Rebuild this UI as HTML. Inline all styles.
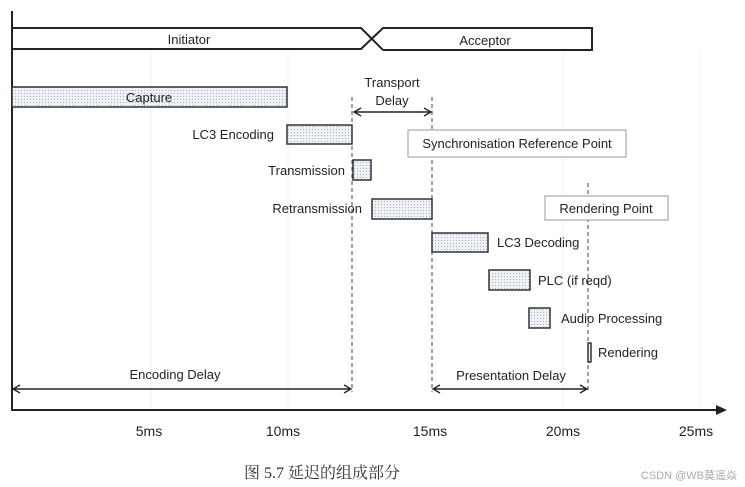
<!DOCTYPE html>
<html><head><meta charset="utf-8"><style>
html,body{margin:0;padding:0;background:#fff;width:745px;height:487px;overflow:hidden}
svg text{font-family:"Liberation Sans","DejaVu Sans",sans-serif;font-size:13px;fill:#222}
</style></head><body>
<svg width="745" height="487" viewBox="0 0 745 487" xmlns="http://www.w3.org/2000/svg">
<defs>
<pattern id="dots" width="3" height="3" patternUnits="userSpaceOnUse">
<rect width="3" height="3" fill="#eef2f7"/><rect width="1" height="1" fill="#a8b0bc"/>
</pattern>
<marker id="ah" markerWidth="10" markerHeight="10" refX="8" refY="5" orient="auto-start-reverse" markerUnits="userSpaceOnUse">
<path d="M1,1 L8,5 L1,9" fill="none" stroke="#222" stroke-width="1.3"/>
</marker>
</defs>
<!-- faint gridlines -->
<g stroke="#f0f0f0" stroke-width="1">
<line x1="151" y1="50" x2="151" y2="408"/><line x1="288" y1="50" x2="288" y2="408"/>
<line x1="563" y1="50" x2="563" y2="408"/><line x1="700" y1="50" x2="700" y2="408"/>
</g>
<!-- axes -->
<line x1="12" y1="11" x2="12" y2="411" stroke="#222" stroke-width="2"/>
<line x1="12" y1="410" x2="718" y2="410" stroke="#222" stroke-width="2"/>
<path d="M716,405 L727,410 L716,415 Z" fill="#222"/>
<!-- top bars -->
<path d="M12,28 L361,28 L383,50 M12,49 L361,49 L383,28 L592,28 L592,50 L383,50" fill="none" stroke="#222" stroke-width="2"/>
<text x="189" y="44" text-anchor="middle">Initiator</text>
<text x="485" y="45" text-anchor="middle">Acceptor</text>
<!-- dashed lines -->
<g stroke="#444" stroke-width="1" stroke-dasharray="4,3">
<line x1="352" y1="97" x2="352" y2="392"/>
<line x1="432" y1="97" x2="432" y2="392"/>
<line x1="588" y1="183" x2="588" y2="392"/>
</g>
<!-- boxes -->
<g fill="url(#dots)" stroke="#333" stroke-width="1.5">
<rect x="12" y="87" width="275" height="20"/>
<rect x="287" y="125" width="65" height="19"/>
<rect x="353" y="160" width="18" height="20"/>
<rect x="372" y="199" width="60" height="20"/>
<rect x="432" y="233" width="56" height="19"/>
<rect x="489" y="270" width="41" height="20"/>
<rect x="529" y="308" width="21" height="20"/>
<rect x="588" y="343" width="3" height="19"/>
</g>
<text x="149" y="102" text-anchor="middle">Capture</text>
<text x="274" y="139" text-anchor="end">LC3 Encoding</text>
<text x="345" y="175" text-anchor="end">Transmission</text>
<text x="362" y="213" text-anchor="end">Retransmission</text>
<text x="497" y="247">LC3 Decoding</text>
<text x="538" y="285">PLC (if reqd)</text>
<text x="561" y="323">Audio Processing</text>
<text x="598" y="357">Rendering</text>
<!-- label boxes -->
<rect x="408" y="130" width="218" height="27" fill="#fff" stroke="#999" stroke-width="1"/>
<text x="517" y="148" text-anchor="middle">Synchronisation Reference Point</text>
<rect x="545" y="196" width="123" height="24" fill="#fff" stroke="#999" stroke-width="1"/>
<text x="606" y="213" text-anchor="middle">Rendering Point</text>
<!-- transport delay -->
<text x="392" y="87" text-anchor="middle">Transport</text>
<text x="392" y="105" text-anchor="middle">Delay</text>
<line x1="354" y1="112" x2="431" y2="112" stroke="#222" stroke-width="1.5" marker-start="url(#ah)" marker-end="url(#ah)"/>
<!-- delays -->
<text x="175" y="379" text-anchor="middle">Encoding Delay</text>
<line x1="13" y1="389" x2="351" y2="389" stroke="#222" stroke-width="1.5" marker-start="url(#ah)" marker-end="url(#ah)"/>
<text x="511" y="380" text-anchor="middle">Presentation Delay</text>
<line x1="433" y1="389" x2="587" y2="389" stroke="#222" stroke-width="1.5" marker-start="url(#ah)" marker-end="url(#ah)"/>
<!-- tick labels -->
<g font-size="14">
<text x="149" y="436" text-anchor="middle" style="font-size:14px">5ms</text>
<text x="283" y="436" text-anchor="middle" style="font-size:14px">10ms</text>
<text x="430" y="436" text-anchor="middle" style="font-size:14px">15ms</text>
<text x="563" y="436" text-anchor="middle" style="font-size:14px">20ms</text>
<text x="696" y="436" text-anchor="middle" style="font-size:14px">25ms</text>
</g>
<text x="244" y="478" style="font-family:'Liberation Serif','Noto Serif CJK SC',serif;font-size:16px;fill:#333">图 5.7 延迟的组成部分</text>
<text x="737" y="479" text-anchor="end" style="font-family:'Liberation Sans','Noto Sans CJK SC',sans-serif;font-size:11px;fill:#aaa">CSDN @WB莫遥焱</text>
</svg>
</body></html>
